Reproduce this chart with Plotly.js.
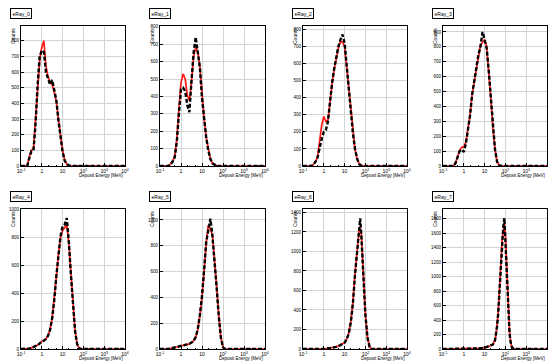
<!DOCTYPE html>
<html><head><meta charset="utf-8">
<script src="https://cdn.plot.ly/plotly-3.0.1.min.js"></script>
<style>html,body{margin:0;padding:0;background:#fff}#chart{width:548px;height:363px}</style>
</head><body><div id="chart"></div>
<script>
// ---- data (x given as log10 of Deposit Energy [MeV]) ----
const panelNames = ["eRay_0","eRay_1","eRay_2","eRay_3","eRay_4","eRay_5","eRay_6","eRay_7"];
const xTickVals = [0.1, 1, 10, 100, 1000, 10000];
const xTickText = ["10<sup>-1</sup>","1","10","10<sup>2</sup>","10<sup>3</sup>","10<sup>4</sup>"];
const yMax  = [895, 805, 820, 940, 1005, 1085, 1435, 1935];
const yStep = [100, 100, 100, 100, 200, 200, 200, 200];

const logE0  = [-1,-0.7,-0.6,-0.5,-0.4,-0.3,-0.2,-0.1,0.0,0.1,0.2,0.3,0.4,0.5,0.6,0.7,0.8,0.9,1.0,1.1,1.2,1.3,1.4,4];
const red0   = [0,0,60,100,110,280,500,680,760,800,640,570,540,520,470,410,300,200,100,40,10,3,0,0];
const black0 = [0,0,50,95,100,270,520,700,740,730,600,560,520,550,480,420,290,200,90,35,12,4,0,0];

const logE1  = [-1,-0.6,-0.5,-0.4,-0.3,-0.2,-0.1,0.0,0.1,0.2,0.3,0.4,0.5,0.6,0.7,0.8,0.9,1.0,1.1,1.2,1.3,1.4,1.5,1.6,1.7,4];
const red1   = [0,0,10,28,55,150,330,480,530,500,410,375,480,630,680,660,570,400,275,165,90,40,15,5,0,0];
const black1 = [0,0,8,25,50,140,300,440,450,430,350,310,490,650,740,650,565,390,270,165,90,40,15,5,0,0];

const logE2  = [-1,-0.6,-0.5,-0.4,-0.3,-0.2,-0.1,0.0,0.1,0.2,0.3,0.4,0.5,0.6,0.7,0.8,0.9,1.0,1.1,1.2,1.3,1.4,1.5,1.6,1.7,1.8,1.9,4];
const red2   = [0,0,8,25,55,140,240,290,260,270,390,480,565,630,690,730,725,700,580,430,310,190,100,45,12,3,0,0];
const black2 = [0,0,8,25,50,110,160,200,210,260,380,490,570,640,700,740,770,720,590,420,300,190,100,43,12,3,0,0];

const logE3  = [-1,-0.5,-0.4,-0.3,-0.2,-0.1,0.0,0.1,0.2,0.3,0.4,0.5,0.6,0.7,0.8,0.9,1.0,1.1,1.2,1.3,1.4,1.5,1.6,1.7,1.8,4];
const red3   = [0,0,20,60,105,125,128,160,245,342,480,565,660,740,810,830,850,800,650,450,250,115,30,5,0,0];
const black3 = [0,0,18,55,100,110,95,150,240,340,480,570,660,745,800,900,850,790,640,440,250,110,28,5,0,0];

const logE4  = [-1,-0.7,-0.6,-0.5,-0.4,-0.3,-0.2,-0.1,0.0,0.1,0.2,0.3,0.4,0.5,0.6,0.7,0.8,0.9,1.0,1.1,1.2,1.3,1.4,1.5,1.6,1.7,1.8,1.9,4];
const red4   = [0,0,3,8,14,20,28,40,55,62,72,98,140,225,350,520,680,800,850,870,890,760,540,320,130,35,5,0,0];
const black4 = [0,0,3,8,14,20,28,40,55,60,72,95,139,222,350,525,678,810,880,893,940,770,530,310,127,35,5,0,0];

const logE5  = [-1,-0.6,-0.4,-0.2,0.0,0.2,0.4,0.5,0.6,0.7,0.8,0.9,1.0,1.1,1.2,1.3,1.4,1.5,1.6,1.7,1.8,1.9,2.0,2.1,4];
const red5   = [0,0,8,15,21,30,40,50,62,90,150,260,400,600,820,960,930,880,700,480,260,90,15,0,0];
const black5 = [0,0,8,15,21,30,40,50,62,92,155,265,410,610,830,920,1010,870,690,470,250,85,13,0,0];

const logE6  = [-1,0.0,0.3,0.6,0.8,1.0,1.1,1.2,1.3,1.4,1.5,1.6,1.65,1.7,1.75,1.8,1.85,1.9,2.0,2.1,2.2,2.3,4];
const red6   = [0,0,10,22,40,65,100,160,280,480,770,1036,1130,1220,1230,1200,1000,780,352,120,25,0,0];
const black6 = [0,0,10,22,40,65,100,160,275,470,760,1030,1150,1280,1340,1180,1020,760,350,115,22,0,0];

const logE7  = [-1,0.3,0.7,1.0,1.2,1.4,1.5,1.55,1.6,1.65,1.7,1.75,1.8,1.85,1.9,1.95,2.0,2.05,2.1,2.15,2.2,2.25,2.3,2.4,4];
const red7   = [0,0,8,18,35,65,125,198,320,490,740,1030,1300,1540,1620,1740,1580,1240,830,450,230,106,35,0,0];
const black7 = [0,0,8,18,35,62,120,195,315,480,751,1050,1320,1560,1700,1810,1500,1180,780,420,210,100,30,0,0];

const logEs   = [logE0, logE1, logE2, logE3, logE4, logE5, logE6, logE7];
const reds    = [red0, red1, red2, red3, red4, red5, red6, red7];
const blacks  = [black0, black1, black2, black3, black4, black5, black6, black7];

// ---- layout geometry (pixels) ----
const W = 548, H = 363;
const colPx = [[21,125],[160,265],[303,407],[443,547]];
const rowPx = [[26,166],[209,349]];

const traces = [];
const layout = {
  width: W, height: H, margin: {l:0, r:0, t:0, b:0},
  paper_bgcolor: '#fff', plot_bgcolor: '#fff', showlegend: false,
  font: {family: 'Liberation Sans, Arial, sans-serif', color: '#000', size: 5},
  annotations: []
};

for (let i = 0; i < 8; i++) {
  const row = i < 4 ? 0 : 1, col = i % 4;
  const n = i === 0 ? '' : String(i + 1);
  const xa = 'x' + n, ya = 'y' + n;
  const xs = logEs[i].map(v => Math.pow(10, v));
  traces.push({x: xs, y: reds[i], xaxis: xa, yaxis: ya, type: 'scatter', mode: 'lines',
    line: {color: '#ff1a1a', width: 1.7}, hoverinfo: 'skip'});
  traces.push({x: xs, y: blacks[i], xaxis: xa, yaxis: ya, type: 'scatter', mode: 'lines',
    line: {color: '#000', width: 2.4, dash: '4px,2px'}, hoverinfo: 'skip'});
  const cx = colPx[col], ry = rowPx[row];
  const xd = [cx[0] / W, cx[1] / W];
  const yd = [1 - ry[1] / H, 1 - ry[0] / H];
  layout['xaxis' + n] = {
    type: 'log', range: [-1, 4], domain: xd, anchor: ya,
    tickvals: xTickVals, ticktext: xTickText, tickfont: {size: 5},
    ticks: 'inside', ticklen: 3, tickcolor: '#000',
    minor: {ticks: 'inside', ticklen: 1.5, tickcolor: '#000', showgrid: false},
    showgrid: true, gridcolor: '#d4d4d4', gridwidth: 1,
    showline: true, mirror: true, linecolor: '#000', linewidth: 1,
    zeroline: false, fixedrange: true
  };
  layout['yaxis' + n] = {
    range: [0, yMax[i]], domain: yd, anchor: xa, dtick: yStep[i], tick0: 0,
    tickfont: {size: 4.5}, ticks: 'inside', ticklen: 3, tickcolor: '#000',
    showgrid: true, gridcolor: '#d4d4d4', gridwidth: 1,
    showline: true, mirror: true, linecolor: '#000', linewidth: 1,
    zeroline: false, fixedrange: true
  };
  // panel title box
  layout.annotations.push({
    xref: 'paper', yref: 'paper', x: (cx[0] - 11) / W, xanchor: 'left',
    y: 1 - (ry[0] - 12.5) / H, yanchor: 'middle', text: panelNames[i], showarrow: false,
    font: {size: 5, color: '#000'}, bgcolor: '#fff', bordercolor: '#000', borderwidth: 1, borderpad: 1.5
  });
  // y title
  layout.annotations.push({
    xref: 'paper', yref: 'paper', x: (cx[0] - 3) / W, xanchor: 'right',
    y: 1 - ry[0] / H, yanchor: 'top', text: 'Counts', textangle: -90, showarrow: false,
    font: {size: 5, color: '#000'}
  });
  // x title
  layout.annotations.push({
    xref: 'paper', yref: 'paper', x: cx[1] / W, xanchor: 'right',
    y: 1 - (ry[1] + 5) / H, yanchor: 'top', text: 'Deposit Energy [MeV]', showarrow: false,
    font: {size: 4.5, color: '#000'}
  });
}

Plotly.newPlot('chart', traces, layout, {staticPlot: true, displayModeBar: false});
</script>
</body></html>
